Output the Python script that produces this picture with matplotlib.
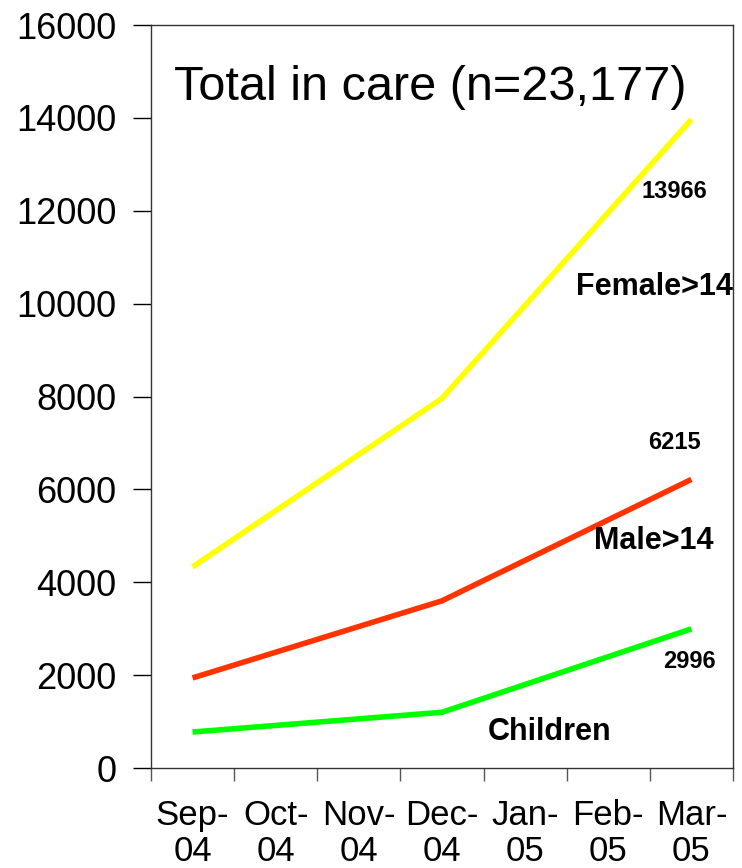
import matplotlib
matplotlib.use("Agg")
import matplotlib.pyplot as plt

plt.rcParams['font.family'] = ['Liberation Sans', 'DejaVu Sans']

months = ["Sep-\n04", "Oct-\n04", "Nov-\n04", "Dec-\n04", "Jan-\n05", "Feb-\n05", "Mar-\n05"]
point_idx = [0, 3, 6]
female = [4330, 7960, 13966]
male = [1940, 3600, 6215]
children = [775, 1200, 2996]
yticks = [0, 2000, 4000, 6000, 8000, 10000, 12000, 14000, 16000]

fig = plt.figure(figsize=(7.42, 8.68), dpi=100)
ax = fig.add_axes([151/742, 1-768/868, (733-151)/742, (768-25)/868])

ax.plot(point_idx, female, color='#FFFF00', lw=4, solid_capstyle='butt')
ax.plot(point_idx, male, color='#FF3300', lw=4, solid_capstyle='butt')
ax.plot(point_idx, children, color='#00FF00', lw=4, solid_capstyle='butt')

ax.set_xlim(-0.5, 6.5)
ax.set_ylim(0, 16000)
ax.set_yticks(yticks)
ax.set_yticklabels([str(v) for v in yticks], fontsize=26)
ax.set_xticks(range(len(months)))
ax.set_xticklabels(months, fontsize=25, linespacing=1.12)
ax.set_xticks([i - 0.5 for i in range(len(months) + 1)], minor=True)
ax.tick_params(axis='x', which='major', length=0, pad=22)
ax.tick_params(axis='x', which='minor', length=9, width=1, direction='out', color='#555555')
ax.tick_params(axis='y', length=13, width=1, direction='out', pad=12)
for s in ax.spines.values():
    s.set_linewidth(1)
    s.set_color('#333333')

ax.text(2.86, 14644, "Total in care (n=23,177)", fontsize=35, ha='center', va='center')
ax.text(5.80, 12404, "13966", fontsize=17, fontweight='bold', ha='center', va='center')
ax.text(5.55, 10358, "Female>14", fontsize=22, fontweight='bold', ha='center', va='center')
ax.text(5.80, 6999, "6215", fontsize=17, fontweight='bold', ha='center', va='center')
ax.text(5.55, 4888, "Male>14", fontsize=22, fontweight='bold', ha='center', va='center')
ax.text(5.98, 2304, "2996", fontsize=17, fontweight='bold', ha='center', va='center')
ax.text(4.29, 775, "Children", fontsize=22, fontweight='bold', ha='center', va='center')

fig.savefig("out.png", dpi=100)
